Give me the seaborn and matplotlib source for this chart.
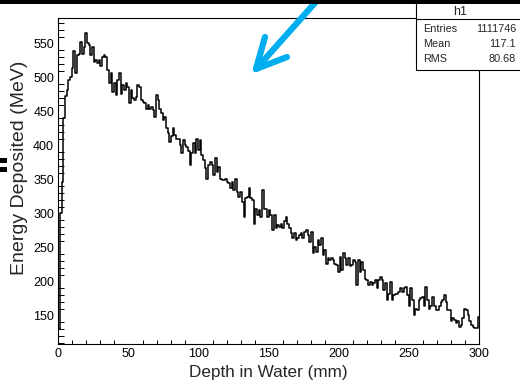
import numpy as np
import matplotlib
matplotlib.use("Agg")
import matplotlib.pyplot as plt
from matplotlib.patches import Rectangle
from matplotlib.lines import Line2D
from matplotlib.ticker import MultipleLocator
import seaborn as sns

# energy deposited per depth bin (250 bins of 1.2 mm over 0-300 mm)
energy_0_100 = [
    130, 300, 346, 440, 472, 481, 496, 501, 513, 538,
    506, 533, 535, 552, 535, 544, 565, 550, 547, 533,
    545, 523, 525, 521, 525, 516, 530, 533, 530, 511,
    491, 506, 479, 491, 474, 496, 506, 476, 489, 481,
    491, 486, 462, 481, 469, 466, 471, 489, 486, 466,
    464, 462, 454, 459, 454, 457, 452, 442, 474, 466,
    454, 447, 437, 442, 425, 418, 405, 413, 425, 415,
    410, 410, 400, 388, 408, 400, 398, 391, 371, 388,
    403, 388, 410,
]
energy_100_200 = [
    393, 408, 386, 378, 366, 351, 371, 376, 371, 356,
    381, 361, 368, 351, 349, 349, 351, 346, 344, 337,
    346, 334, 351, 332, 324, 332, 317, 295, 322, 324,
    337, 322, 320, 285, 307, 298, 305, 295, 334, 307,
    307, 295, 305, 298, 275, 298, 278, 283, 280, 285,
    278, 288, 295, 285, 278, 271, 263, 271, 261, 263,
    268, 271, 263, 273, 275, 268, 258, 273, 241, 251,
    243, 261, 253, 263, 239, 246, 226, 234, 231, 234,
    231, 226, 224,
]
energy_200_300 = [
    214, 236, 217, 241, 234, 224, 234, 222, 224, 231,
    229, 195, 231, 214, 229, 217, 204, 202, 195, 199,
    195, 197, 202, 190, 202, 207, 202, 187, 197, 173,
    182, 199, 173, 180, 182, 182, 185, 190, 185, 190,
    192, 180, 163, 190, 173, 150, 160, 158, 173, 175,
    177, 163, 192, 173, 160, 163, 177, 163, 158, 158,
    163, 170, 173, 180, 170, 158, 158, 141, 146, 143,
    138, 141, 133, 136, 146, 160, 158, 150, 141, 136,
    133, 131, 131, 148,
]

stats_labels = ["Entries", "Mean", "RMS"]
stats_values = ["1111746", "117.1", "80.68"]

energy = np.array(energy_0_100 + energy_100_200 + energy_200_300, dtype=float)
edges = np.linspace(0, 300, len(energy) + 1)

sns.set_theme(style="white")
plt.rcParams["font.family"] = ["Liberation Sans", "DejaVu Sans"]

W, H = 520, 382
fig = plt.figure(figsize=(W / 100, H / 100), dpi=100)
ax = fig.add_axes([58.3 / W, 1 - 344.3 / H, 421 / W, 326 / H])

sns.lineplot(x=edges, y=np.append(energy, energy[-1]), drawstyle="steps-post",
             color="black", lw=1.1, estimator=None, ax=ax)

ax.set_xlim(0, 300)
ax.set_ylim(107.4, 586.8)
ax.xaxis.set_major_locator(MultipleLocator(50))
ax.xaxis.set_minor_locator(MultipleLocator(10))
ax.yaxis.set_major_locator(MultipleLocator(50))
ax.yaxis.set_minor_locator(MultipleLocator(10))
ax.tick_params(which="both", direction="in", top=False, right=False,
               labelsize=9, colors="black", width=0.7, pad=3)
ax.tick_params(axis="y", which="major", length=8.6)
ax.tick_params(axis="y", which="minor", length=4.3, left=True)
ax.tick_params(axis="x", which="major", length=6.5)
ax.tick_params(axis="x", which="minor", length=3.2, bottom=True)
for s in ax.spines.values():
    s.set_color("black")
    s.set_linewidth(0.8)

ax.set_xlabel("Depth in Water (mm)", fontsize=12.3, labelpad=3)
ax.set_ylabel("Energy Deposited (MeV)", fontsize=14)
ax.yaxis.set_label_coords(-0.072, 0.54)

# stats box
def fx(px):
    return px / W

def fy(py):
    return 1 - py / H

fig.add_artist(Rectangle((fx(416), fy(70)), fx(120), 70 / H, transform=fig.transFigure,
                         facecolor="white", edgecolor="black", lw=0.8, zorder=5))
fig.add_artist(Line2D([fx(416), 1], [fy(19), fy(19)], transform=fig.transFigure,
                      color="black", lw=0.8, zorder=6))
fig.text(fx(460), fy(12), "h1", ha="center", va="center", fontsize=9, zorder=7)
for i, (lab, val) in enumerate(zip(stats_labels, stats_values)):
    yy = fy(29 + 15 * i)
    fig.text(fx(423), yy, lab, ha="left", va="center", fontsize=7.8, zorder=7)
    fig.text(fx(516), yy, val, ha="right", va="center", fontsize=7.8, zorder=7)

# screenshot overlays: black strip, blue arrow, marks at left
fig.add_artist(Rectangle((0, fy(4)), 1, 4 / H, transform=fig.transFigure,
                         facecolor="black", edgecolor="none", zorder=10))
blue = "#00AEEF"
for (x0, y0), (x1, y1) in [((330, -14), (256, 69)), ((256, 69), (265, 37)), ((256, 69), (287, 57))]:
    fig.add_artist(Line2D([fx(x0), fx(x1)], [fy(y0), fy(y1)], transform=fig.transFigure,
                          color=blue, lw=4.5, solid_capstyle="round", zorder=9))
for y0 in (158, 167):
    fig.add_artist(Rectangle((0, fy(y0 + 5)), fx(7), 5 / H, transform=fig.transFigure,
                             facecolor="black", edgecolor="none", zorder=10))

fig.savefig("out.png", dpi=100)
